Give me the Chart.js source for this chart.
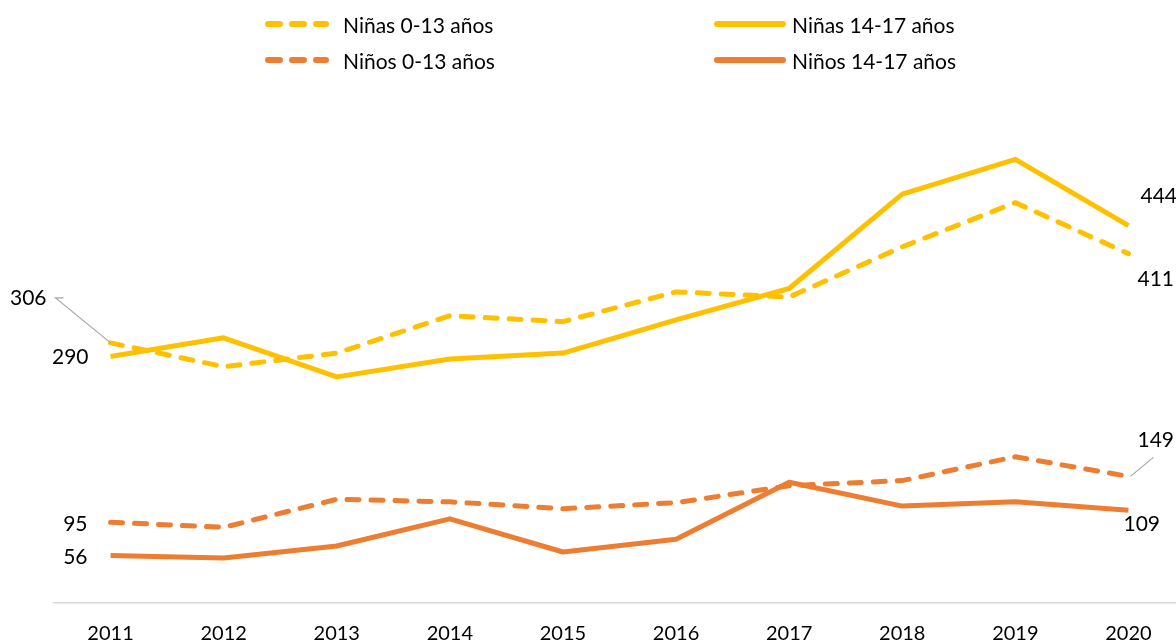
<!DOCTYPE html>
<html>
<head>
<meta charset="utf-8">
<script src="https://cdn.jsdelivr.net/npm/chart.js@4.4.0/dist/chart.umd.min.js"></script>
<style>
  html, body { margin: 0; padding: 0; background: #fff; overflow: hidden; }
  #wrap { position: relative; width: 1176px; height: 643px; overflow: hidden; }
  #c { position: absolute; left: 0; top: 0; }
  .leg { position: absolute; font-family: Lato, "Open Sans", sans-serif; font-size: 21px; color: #000; display: flex; align-items: center; white-space: nowrap; }
</style>
</head>
<body>
<div id="wrap">
  <canvas id="c" width="1185" height="643" style="width:1185px;height:643px"></canvas>
  <div id="legend"></div>
</div>
<script>
const years = ["2011","2012","2013","2014","2015","2016","2017","2018","2019","2020"];
const ninas0_13  = [306, 278, 294, 338, 331, 366, 360, 419, 471, 411];
const ninas14_17 = [290, 312, 266, 287, 294, 333, 370, 481, 522, 444];
const ninos0_13  = [95, 89, 122, 119, 111, 118, 138, 144, 172, 149];
const ninos14_17 = [56, 53, 67, 99, 60, 75, 142, 114, 119, 109];
const seriesNames = ["Niñas 0-13 años", "Niñas 14-17 años", "Niños 0-13 años", "Niños 14-17 años"];

const YELLOW = "#FFC000", ORANGE = "#ED7D31";
const styles = [
  {color: YELLOW, dash: [12, 12]},
  {color: YELLOW, dash: []},
  {color: ORANGE, dash: [12, 12]},
  {color: ORANGE, dash: []}
];
const seriesData = [ninas0_13, ninas14_17, ninos0_13, ninos14_17];

// label placement: [datasetIndex, pointIndex, dx, dy, align, leader]
const labelSpecs = [
  [0, 0, -64, -45, "right", [[-47,-45],[-55,-45],[0,0]]],
  [1, 0, -22, 1, "right", null],
  [2, 0, -23, 2, "right", null],
  [3, 0, -23, 2, "right", null],
  [1, 9, 12, -29, "left", null],
  [0, 9, 9, 26, "left", null],
  [2, 9, 9, -36, "left", [[2,0],[25,-19]]],
  [3, 9, -5, 14, "left", null]
];

const labelPlugin = {
  id: "labels",
  afterDatasetsDraw(chart) {
    const ctx = chart.ctx;
    ctx.save();
    ctx.font = "21px Lato, 'Open Sans', sans-serif";
    ctx.fillStyle = "#000";
    ctx.textBaseline = "middle";
    labelSpecs.forEach(([di, pi, dx, dy, align, leader]) => {
      const pt = chart.getDatasetMeta(di).data[pi];
      const x = pt.x, y = pt.y;
      if (leader) {
        ctx.beginPath();
        ctx.strokeStyle = "#A6A6A6";
        ctx.lineWidth = 1.2;
        leader.forEach(([lx, ly], k) => {
          if (k === 0) ctx.moveTo(x + lx, y + ly); else ctx.lineTo(x + lx, y + ly);
        });
        ctx.stroke();
      }
      ctx.textAlign = align;
      ctx.fillText(String(seriesData[di][pi]), x + dx, y + dy);
    });
    ctx.restore();
  }
};

const chart = new Chart(document.getElementById("c"), {
  type: "line",
  data: {
    labels: years,
    datasets: seriesData.map((d, i) => ({
      label: seriesNames[i],
      data: d,
      borderColor: styles[i].color,
      backgroundColor: styles[i].color,
      borderWidth: 5,
      borderDash: styles[i].dash,
      borderCapStyle: styles[i].dash.length ? "round" : "butt",
      borderJoinStyle: "round",
      pointRadius: 0,
      tension: 0,
      fill: false
    }))
  },
  options: {
    responsive: false,
    animation: false,
    layout: { padding: { left: 54, right: 0, top: 93, bottom: 0 } },
    plugins: { legend: { display: false }, tooltip: { enabled: false } },
    scales: {
      x: {
        offset: true,
        grid: { display: false, drawTicks: false },
        border: { display: true, color: "#D9D9D9", width: 1.5 },
        ticks: { color: "#000", font: { family: "Lato, 'Open Sans', sans-serif", size: 20 }, padding: 19, maxRotation: 0 },
        afterFit(scale) { scale.height = 40; }
      },
      y: {
        display: false,
        min: 0,
        max: 600
      }
    }
  },
  plugins: [labelPlugin]
});

// HTML legend
const legPos = [
  {left: 264, top: 24}, {left: 714, top: 24},
  {left: 264, top: 60}, {left: 714, top: 60}
];
const legend = document.getElementById("legend");
seriesNames.forEach((name, i) => {
  const el = document.createElement("div");
  el.className = "leg";
  el.style.left = legPos[i].left + "px";
  el.style.top = (legPos[i].top - 13) + "px";
  el.style.height = "26px";
  const dashed = styles[i].dash.length > 0;
  const w = dashed ? 66 : 72;
  const gap = dashed ? 13 : 6;
  const svg = dashed
    ? `<svg width="${w}" height="10" style="margin-right:${gap}px"><line x1="4" y1="5" x2="${w-4}" y2="5" stroke="${styles[i].color}" stroke-width="6" stroke-linecap="round" stroke-dasharray="12 12"/></svg>`
    : `<svg width="${w}" height="10" style="margin-right:${gap}px"><line x1="3" y1="5" x2="${w-3}" y2="5" stroke="${styles[i].color}" stroke-width="6" stroke-linecap="round"/></svg>`;
  el.innerHTML = svg + `<span>${name}</span>`;
  legend.appendChild(el);
});
</script>
</body>
</html>
